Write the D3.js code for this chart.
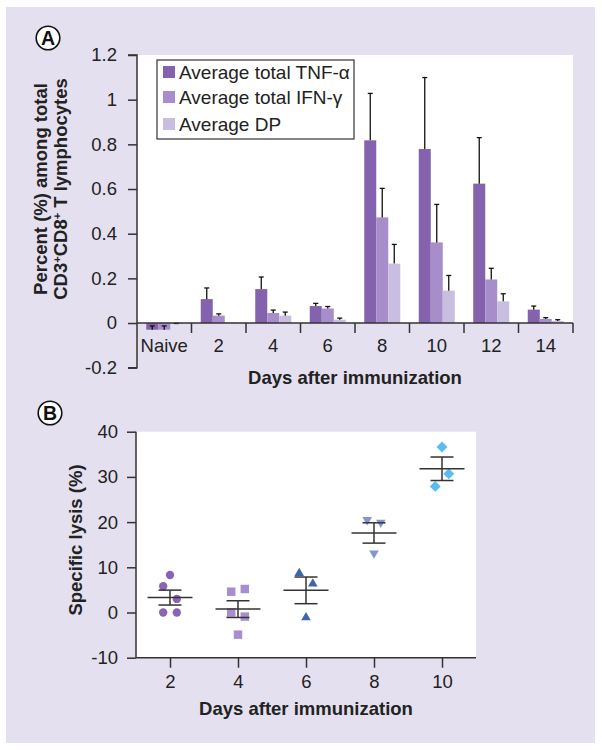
<!DOCTYPE html>
<html><head><meta charset="utf-8">
<script src="https://cdn.jsdelivr.net/npm/d3@7"></script>
<style>
body{margin:0;background:#fff;}
svg{display:block;font-family:"Liberation Sans",Arial,Helvetica,sans-serif;}
</style></head>
<body><svg id="c" width="602" height="750"></svg>
<script>
// ---------- Panel A data ----------
const categories = ["Naive","2","4","6","8","10","12","14"];
const seriesNames = ["Average total TNF-\u03b1","Average total IFN-\u03b3","Average DP"];
const tnf    = [-0.030, 0.107, 0.152, 0.076, 0.818, 0.779, 0.624, 0.060];
const tnfErr = [ 0.017, 0.050, 0.054, 0.012, 0.210, 0.320, 0.206, 0.016];
const ifn    = [-0.030, 0.033, 0.045, 0.065, 0.473, 0.361, 0.195, 0.018];
const ifnErr = [ 0.017, 0.008, 0.013, 0.009, 0.130, 0.170, 0.050, 0.006];
const dp     = [-0.004, 0.002, 0.033, 0.015, 0.266, 0.145, 0.097, 0.009];
const dpErr  = [ 0.002, 0.000, 0.016, 0.007, 0.086, 0.068, 0.034, 0.006];
const yTicksA = [-0.2, 0, 0.2, 0.4, 0.6, 0.8, 1, 1.2];

// ---------- Panel B data ----------
const days = [2, 4, 6, 8, 10];
const lysisX = [[2, 1.8, 2.2, 1.8, 2.2],[3.8, 4.2, 3.8, 4.2, 4.0],[5.8, 6.2, 6.0],[7.8, 8.2, 8.0],[10.0, 10.2, 9.8]];
const lysisY = [[8.3, 5.8, 3.0, 0.0, 0.0],[4.6, 5.2, 0.0, -0.9, -4.9],[8.7, 6.35, -1.1],[20.5, 19.9, 13.1],[36.6, 30.7, 27.9]];
const lysisMean = [3.3, 0.75, 4.9, 17.6, 31.8];
const lysisSem  = [1.65, 1.85, 2.95, 2.25, 2.6];
const yTicksB = [-10, 0, 10, 20, 30, 40];

const barColors = ["#8462ad", "#a78dca", "#c9bde0"];
const dotColors = ["#8a64b4", "#a98ecf", "#3f66ad", "#8397cf", "#5bbcef"];
const dotShapes = ["circle", "square", "triUp", "triDown", "diamond"];

const svg = d3.select("#c");
const axisCol = "#333";
const FONT = 18.5;
const fmt = d => String(d).replace("\u2212","-");

// background
svg.append("rect").attr("x",6).attr("y",7).attr("width",589).attr("height",736).attr("fill","#e4e0ef");

function panelLabel(cx, cy, t){
  svg.append("circle").attr("cx",cx).attr("cy",cy).attr("r",11.8).attr("fill","#fff").attr("stroke","#111").attr("stroke-width",1.6);
  svg.append("text").attr("x",cx).attr("y",cy+7).attr("text-anchor","middle").attr("font-size",19.5).attr("font-weight","bold").attr("fill","#111").text(t);
}

// ================= Panel A =================
const A = {l:137, r:573, t:55, b:367.7};
const yA = d3.scaleLinear().domain([-0.2,1.2]).range([A.b, A.t]);
const xA = d3.scaleBand().domain(categories).range([A.l, A.r]);
const sub = d3.scaleBand().domain([0,1,2]).range([0,36]);

svg.append("rect").attr("x",A.l).attr("y",A.t).attr("width",A.r-A.l).attr("height",yA(0)-A.t).attr("fill","#fff");

const series = [tnf, ifn, dp];
const errs = [tnfErr, ifnErr, dpErr];
series.forEach((vals, si) => {
  const g = svg.append("g");
  categories.forEach((c, ci) => {
    const v = vals[ci];
    const x0 = xA(c) + xA.bandwidth()/2 - 18 + sub(si);
    g.append("rect").attr("x", x0).attr("width", sub.bandwidth())
      .attr("y", Math.min(yA(v), yA(0))).attr("height", Math.abs(yA(v)-yA(0)))
      .attr("fill", barColors[si]);
  });
});
series.forEach((vals, si) => {
  categories.forEach((c, ci) => {
    const v = vals[ci], e = errs[si][ci];
    if (e <= 0) return;
    const xc = xA(c) + xA.bandwidth()/2 - 18 + sub(si) + sub.bandwidth()/2;
    svg.append("line").attr("x1",xc).attr("x2",xc).attr("y1",yA(v)).attr("y2",yA(v+e)).attr("stroke","#111").attr("stroke-width",1.3);
    svg.append("line").attr("x1",xc-2.5).attr("x2",xc+2.5).attr("y1",yA(v+e)).attr("y2",yA(v+e)).attr("stroke","#111").attr("stroke-width",1.3);
  });
});

// y axis A
const yAxisA = d3.axisLeft(yA).tickValues(yTicksA).tickSize(9).tickPadding(11).tickFormat(fmt);
const gyA = svg.append("g").attr("transform",`translate(${A.l},0)`).call(yAxisA);
gyA.select(".domain").attr("d",`M-9,${A.t}H0V${A.b}H-9`);
// x axis A at zero
const zeroY = yA(0);
svg.append("line").attr("x1",A.l).attr("x2",A.r).attr("y1",zeroY).attr("y2",zeroY).attr("stroke",axisCol).attr("stroke-width",1.5);
categories.forEach((c,i) => {
  const xb = xA(c) + xA.bandwidth();
  svg.append("line").attr("x1",xb).attr("x2",xb).attr("y1",zeroY).attr("y2",zeroY+10).attr("stroke",axisCol).attr("stroke-width",1.5);
  svg.append("text").attr("x", xA(c)+xA.bandwidth()/2).attr("y", zeroY+29).attr("text-anchor","middle").attr("font-size",FONT).attr("fill","#222").text(c);
});
svg.append("text").attr("x",355).attr("y",384).attr("text-anchor","middle").attr("font-size",FONT).attr("font-weight","bold").attr("fill","#222").text("Days after immunization");

// y label A
const ylA = svg.append("text").attr("transform","translate(47,189) rotate(-90)").attr("text-anchor","middle").attr("font-size",FONT).attr("font-weight","bold").attr("fill","#222");
ylA.append("tspan").attr("x",0).attr("y",0).text("Percent (%) among total");
ylA.append("tspan").attr("x",0).attr("y",20).text("CD3");
ylA.append("tspan").attr("baseline-shift","super").attr("font-size",11).text("+");
ylA.append("tspan").text("CD8");
ylA.append("tspan").attr("baseline-shift","super").attr("font-size",11).text("+");
ylA.append("tspan").text(" T lymphocytes");

// legend
const lg = svg.append("g");
lg.append("rect").attr("x",157).attr("y",60).attr("width",197).attr("height",79).attr("fill","#fff").attr("stroke","#333").attr("stroke-width",1.2);
seriesNames.forEach((n,i) => {
  const cy = [72, 97, 124][i];
  lg.append("rect").attr("x",163).attr("y",cy-6).attr("width",12).attr("height",12).attr("fill",barColors[i]);
  lg.append("text").attr("x",179).attr("y",cy+7).attr("font-size",19).attr("fill","#222").text(n);
});

panelLabel(48, 38, "A");

// ================= Panel B =================
const B = {l:136, r:476, t:431.7, b:657.7};
const yB = d3.scaleLinear().domain([-10,40]).range([B.b, B.t]);
const xB = d3.scaleLinear().domain([1,11]).range([B.l, B.r]);

svg.append("rect").attr("x",B.l).attr("y",B.t).attr("width",B.r-B.l).attr("height",B.b-B.t).attr("fill","#fff");

const yAxisB = d3.axisLeft(yB).tickValues(yTicksB).tickSize(9).tickPadding(9).tickFormat(fmt);
const gyB = svg.append("g").attr("transform",`translate(${B.l},0)`).call(yAxisB);
gyB.select(".domain").attr("d",`M0,${B.t}V${B.b}`);
const xAxisB = d3.axisBottom(xB).tickValues(days).tickSize(10).tickPadding(7);
const gxB = svg.append("g").attr("transform",`translate(0,${B.b})`).call(xAxisB);
gxB.select(".domain").attr("d",`M${B.l},0H${B.r}`);

[gyA, gyB, gxB].forEach(g => {
  g.selectAll("path,line").attr("stroke",axisCol).attr("stroke-width",1.5);
  g.selectAll("text").attr("font-size",FONT).attr("fill","#222").attr("font-family","Liberation Sans, Arial, sans-serif");
});

svg.append("text").attr("x",306).attr("y",715).attr("text-anchor","middle").attr("font-size",FONT).attr("font-weight","bold").attr("fill","#222").text("Days after immunization");
svg.append("text").attr("transform","translate(82,540) rotate(-90)").attr("text-anchor","middle").attr("font-size",FONT).attr("font-weight","bold").attr("fill","#222").text("Specific lysis (%)");

function symPath(shape){
  switch(shape){
    case "circle": return d3.symbol(d3.symbolCircle, 55)();
    case "square": return d3.symbol(d3.symbolSquare, 72)();
    case "triUp": return d3.symbol(d3.symbolTriangle, 40)();
    case "triDown": return d3.symbol(d3.symbolTriangle, 40)();
    case "diamond": return d3.symbol(d3.symbolSquare, 60)();
  }
}
function symRot(shape){ return shape==="triDown"?180:(shape==="diamond"?45:0); }

days.forEach((d,i) => {
  const xs = lysisX[i], ys = lysisY[i];
  ys.forEach((v,j) => {
    svg.append("path").attr("d", symPath(dotShapes[i]))
      .attr("transform",`translate(${xB(xs[j])},${yB(v)}) rotate(${symRot(dotShapes[i])})`)
      .attr("fill", dotColors[i]);
  });
});
days.forEach((d,i) => {
  const xc = xB(d), m = lysisMean[i], s = lysisSem[i];
  const st = {stroke:"#333", w:1.5};
  svg.append("line").attr("x1",xc-22.5).attr("x2",xc+22.5).attr("y1",yB(m)).attr("y2",yB(m)).attr("stroke",st.stroke).attr("stroke-width",st.w);
  svg.append("line").attr("x1",xc).attr("x2",xc).attr("y1",yB(m-s)).attr("y2",yB(m+s)).attr("stroke",st.stroke).attr("stroke-width",st.w);
  [m-s, m+s].forEach(v => svg.append("line").attr("x1",xc-11.5).attr("x2",xc+11.5).attr("y1",yB(v)).attr("y2",yB(v)).attr("stroke",st.stroke).attr("stroke-width",st.w));
});

panelLabel(50, 413, "B");
</script></body></html>
